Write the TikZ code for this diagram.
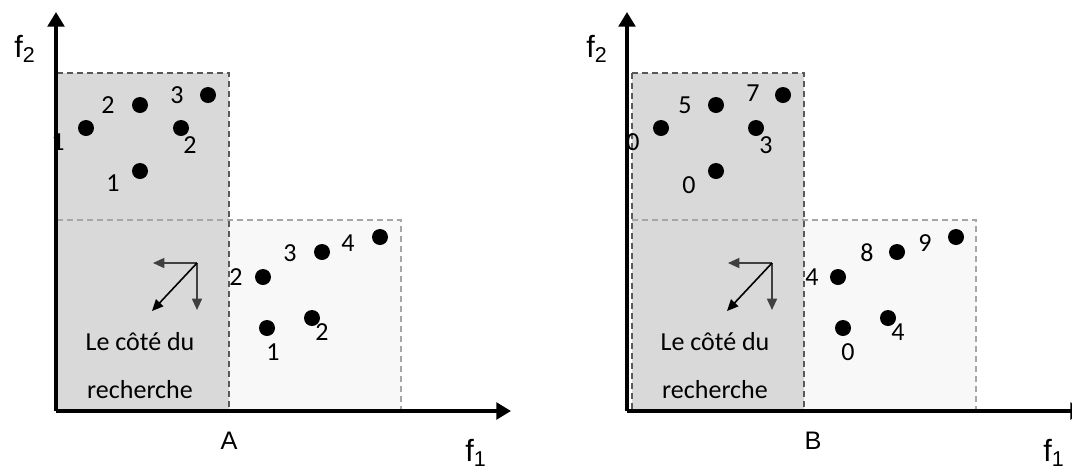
\documentclass[tikz,border=0pt]{standalone}
\usepackage{fontspec}
\setmainfont{Carlito}
\newfontfamily\axisfont{Liberation Sans}
\usetikzlibrary{arrows.meta,positioning}
\definecolor{zoneDark}{HTML}{D9D9D9}
\definecolor{zoneLight}{HTML}{F8F8F8}
\definecolor{edgeDark}{HTML}{595959}
\definecolor{edgeLight}{HTML}{A6A6A6}
\definecolor{dirGray}{HTML}{404040}

\begin{document}
\begin{tikzpicture}[x=0.75pt, y=-0.75pt,
  dot/.style={circle, fill=black, inner sep=0pt, minimum size=12pt},
  num/.style={inner sep=0pt, font=\fontsize{19.5}{22}\selectfont},
  side/.style={inner sep=0pt, font=\fontsize{19.5}{22}\selectfont},
  axis/.style={line width=2.6pt, -{Triangle[length=11pt,width=12.5pt]}},
  axlab/.style={inner sep=0pt, font=\axisfont\fontsize{23}{26}\selectfont},
  panlab/.style={inner sep=0pt, font=\axisfont\fontsize{19}{22}\selectfont},
  zone/.style={line width=1.1pt, dash pattern=on 4.5pt off 3pt},
  dir/.style={dirGray, line width=1.2pt, -{Triangle[length=8.5pt,width=7.5pt]}}]
\useasboundingbox (0,0) rectangle (1072,469);
% Left picture: A
\begin{scope}
\fill[zoneDark] (57,73) rectangle (229,411);
\fill[zoneLight] (229,220) rectangle (401,411);
\draw[zone, edgeLight] (57,220) -- (401,220) -- (401,411);
\draw[zone, edgeDark] (57,73) -- (229,73) -- (229,411);
\coordinate (Oa) at (56,411);
\coordinate (Ya) at (56,12);
\coordinate (Xa) at (511,411);
\draw[axis] (Oa) -- (Ya);
\draw[axis] (Oa) -- (Xa);
\node[axlab] (f2a) at (25,49) {f\textsubscript{2}};
\node[axlab] (f1a) at (476,453) {f\textsubscript{1}};
\node[panlab] (A) at (229,441) {A};
% search direction
\coordinate (ca) at (197,263);
\coordinate (la) at (153,263);
\coordinate (da) at (197,310);
\coordinate (ga) at (152,311);
\draw[dir] (ca) -- (la);
\draw[dir] (ca) -- (da);
\draw[dir, black] (ca) -- (ga);
\node[side] (sa1) at (140,342) {Le côté du};
\node[side] (sa2) at (140,390) {recherche};
% points
\node[dot] (a1) at (86,128) {};
\node[dot] (a2) at (140,105) {};
\node[dot] (a3) at (208,95) {};
\node[dot] (a4) at (181,128) {};
\node[dot] (a5) at (140,171) {};
\node[dot] (a6) at (263,277) {};
\node[dot] (a7) at (322,252) {};
\node[dot] (a8) at (380,237) {};
\node[dot] (a9) at (267,328) {};
\node[dot] (a10) at (312,318) {};
\node[num] (na1) at (58,142) {1};
\node[num] (na2) at (108,105) {2};
\node[num] (na3) at (177,95) {3};
\node[num] (na4) at (190,145) {2};
\node[num] (na5) at (113,183) {1};
\node[num] (na6) at (236,277) {2};
\node[num] (na7) at (290,253) {3};
\node[num] (na8) at (348,243) {4};
\node[num] (na9) at (273,352) {1};
\node[num] (na10) at (322,332) {2};
\end{scope}
% Right picture: B
\begin{scope}[xshift=575*0.75pt]
\fill[zoneDark] (57,73) rectangle (229,411);
\fill[zoneLight] (229,220) rectangle (401,411);
\draw[zone, edgeLight] (57,220) -- (401,220) -- (401,411);
\draw[zone, edgeDark] (57,73) -- (229,73) -- (229,411);
\draw[zone, edgeDark] (57,73) -- (57,411);
\coordinate (Ob) at (52,411);
\coordinate (Yb) at (52,12);
\coordinate (Xb) at (510,411);
\draw[axis] (Ob) -- (Yb);
\draw[axis] (Ob) -- (Xb);
\node[axlab] (f2b) at (22,49) {f\textsubscript{2}};
\node[axlab] (f1b) at (479,453) {f\textsubscript{1}};
\node[panlab] (B) at (238,441) {B};
% search direction
\coordinate (cb) at (197,263);
\coordinate (lb) at (153,263);
\coordinate (db) at (197,310);
\coordinate (gb) at (152,311);
\draw[dir] (cb) -- (lb);
\draw[dir] (cb) -- (db);
\draw[dir, black] (cb) -- (gb);
\node[side] (sb1) at (140,342) {Le côté du};
\node[side] (sb2) at (140,390) {recherche};
% points
\node[dot] (b1) at (86,128) {};
\node[dot] (b2) at (141,105) {};
\node[dot] (b3) at (208,95) {};
\node[dot] (b4) at (181,128) {};
\node[dot] (b5) at (141,171) {};
\node[dot] (b6) at (263,277) {};
\node[dot] (b7) at (322,252) {};
\node[dot] (b8) at (381,237) {};
\node[dot] (b9) at (268,328) {};
\node[dot] (b10) at (313,318) {};
\node[num] (nb1) at (58,142) {0};
\node[num] (nb2) at (110,105) {5};
\node[num] (nb3) at (178,93) {7};
\node[num] (nb4) at (191,145) {3};
\node[num] (nb5) at (114,185) {0};
\node[num] (nb6) at (237,277) {4};
\node[num] (nb7) at (292,253) {8};
\node[num] (nb8) at (350,243) {9};
\node[num] (nb9) at (273,352) {0};
\node[num] (nb10) at (323,332) {4};
\end{scope}
\end{tikzpicture}
\end{document}
